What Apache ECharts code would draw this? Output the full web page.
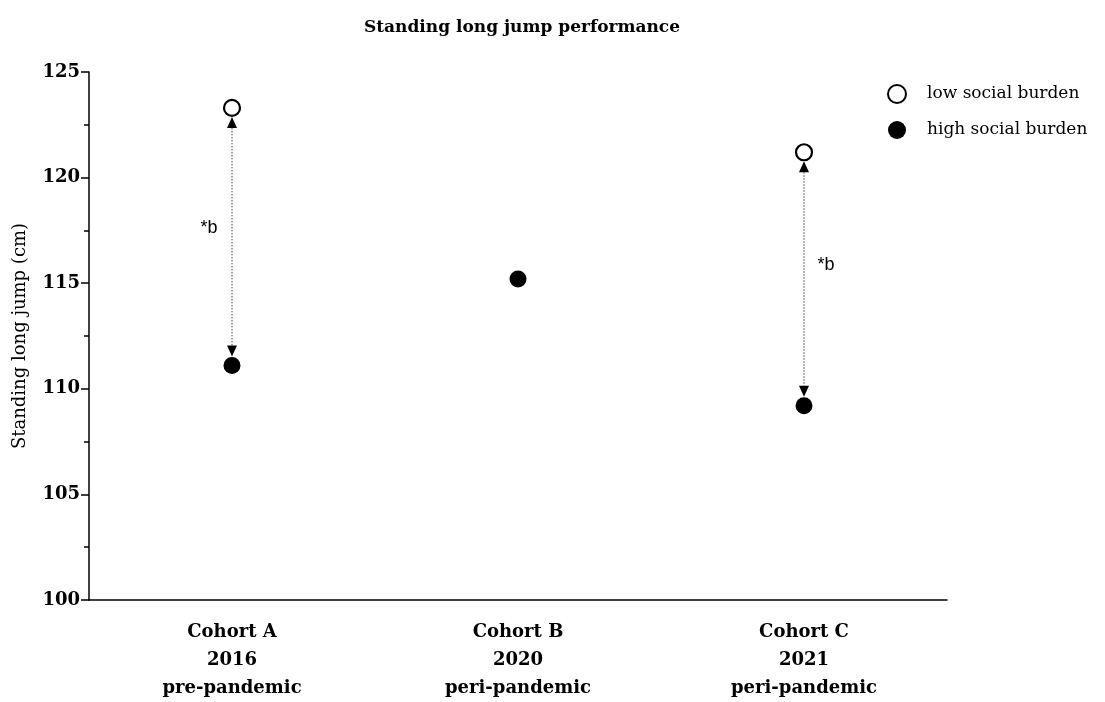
<!DOCTYPE html>
<html><head><meta charset="utf-8">
<script src="https://cdn.jsdelivr.net/npm/echarts@6/dist/echarts.min.js"></script>
<style>html,body{margin:0;padding:0;background:#fff}#c{width:1105px;height:702px}</style>
</head><body><div id="c"></div>
<script>
const categories = ['Cohort A\n2016\npre-pandemic', 'Cohort B\n2020\nperi-pandemic', 'Cohort C\n2021\nperi-pandemic'];
const lowBurden = [123.3, null, 121.2];
const highBurden = [111.1, 115.2, 109.2];
const sigLabels = ['*b', null, '*b'];
const sigSide = ['left', null, 'right'];
const yTicks = [100, 105, 110, 115, 120, 125];

const serif = '"DejaVu Serif", "Liberation Serif", serif';
const chart = echarts.init(document.getElementById('c'));

const lowData = [], highData = [], arrowData = [];
categories.forEach((c, i) => {
  if (lowBurden[i] != null) lowData.push([i, lowBurden[i]]);
  if (highBurden[i] != null) highData.push([i, highBurden[i]]);
  if (lowBurden[i] != null && highBurden[i] != null && sigLabels[i]) arrowData.push([i, lowBurden[i], highBurden[i]]);
});

const R = 8;
chart.setOption({
  animation: false,
  title: {
    text: 'Standing long jump performance',
    left: 517, top: 14, textAlign: 'center',
    textStyle: {fontFamily: serif, fontWeight: 'bold', fontSize: 17, color: '#000'}
  },
  legend: {
    orient: 'vertical', left: 887, top: 84, itemGap: 17, padding: 0,
    itemWidth: 18, itemHeight: 18,
    textStyle: {fontFamily: serif, fontSize: 17, color: '#000', padding: [0, 0, 0, 16]},
    data: ['low social burden', 'high social burden']
  },
  grid: {left: 89, right: 158, top: 72, bottom: 102, containLabel: false, outerBoundsMode: 'none'},
  xAxis: {
    type: 'category', data: categories, boundaryGap: true,
    axisLine: {lineStyle: {color: '#000', width: 1.5}},
    axisTick: {alignWithLabel: true, length: 7, lineStyle: {color: '#000', width: 1.5}},
    axisLabel: {fontFamily: serif, fontWeight: 'bold', fontSize: 18, color: '#000', lineHeight: 28, margin: 18, interval: 0}
  },
  yAxis: {
    type: 'value', min: 100, max: 125, interval: 5,
    name: 'Standing long jump (cm)', nameLocation: 'middle', nameGap: 60,
    nameTextStyle: {fontFamily: serif, fontSize: 18, color: '#000'},
    axisLine: {show: true, lineStyle: {color: '#000', width: 1.5}},
    axisTick: {show: true, length: 8, lineStyle: {color: '#000', width: 1.5}},
    minorTick: {show: true, splitNumber: 2, length: 5, lineStyle: {color: '#000', width: 1.5}},
    splitLine: {show: false},
    axisLabel: {fontFamily: serif, fontWeight: 'bold', fontSize: 18, color: '#000', margin: 9,
      formatter: v => yTicks.includes(v) ? String(v) : ''}
  },
  series: [
    {
      name: 'low social burden', type: 'scatter', data: lowData, symbol: 'circle', symbolSize: 16,
      itemStyle: {color: '#fff', borderColor: '#000', borderWidth: 2.2, opacity: 1}, z: 5
    },
    {
      name: 'high social burden', type: 'scatter', data: highData, symbol: 'circle', symbolSize: 17,
      itemStyle: {color: '#000', opacity: 1}, z: 5
    },
    {
      type: 'custom', data: arrowData, z: 3, silent: true,
      renderItem: function (params, api) {
        const i = api.value(0);
        const pTop = api.coord([i, api.value(1)]);
        const pBot = api.coord([i, api.value(2)]);
        const x = pTop[0];
        const yT = pTop[1] + R + 1, yB = pBot[1] - R - 1;
        const th = 11, tw = 5;
        const mid = (yT + yB) / 2;
        const side = sigSide[i];
        const tx = side === 'left' ? x - 23 : x + 22;
        const ty = side === 'left' ? mid - 9 : mid - 14;
        return {
          type: 'group',
          children: [
            {type: 'line', shape: {x1: x, y1: yT + th, x2: x, y2: yB - th},
              style: {stroke: '#444', lineWidth: 1, lineDash: [1.5, 1.5]}},
            {type: 'polygon', shape: {points: [[x, yT], [x - tw, yT + th], [x + tw, yT + th]]}, style: {fill: '#000'}},
            {type: 'polygon', shape: {points: [[x, yB], [x - tw, yB - th], [x + tw, yB - th]]}, style: {fill: '#000'}},
            {type: 'text', style: {text: sigLabels[i], x: tx, y: ty, align: 'center', verticalAlign: 'middle',
              font: '18px "Liberation Sans", Arial, sans-serif', fill: '#000'}}
          ]
        };
      }
    }
  ]
});
</script></body></html>
